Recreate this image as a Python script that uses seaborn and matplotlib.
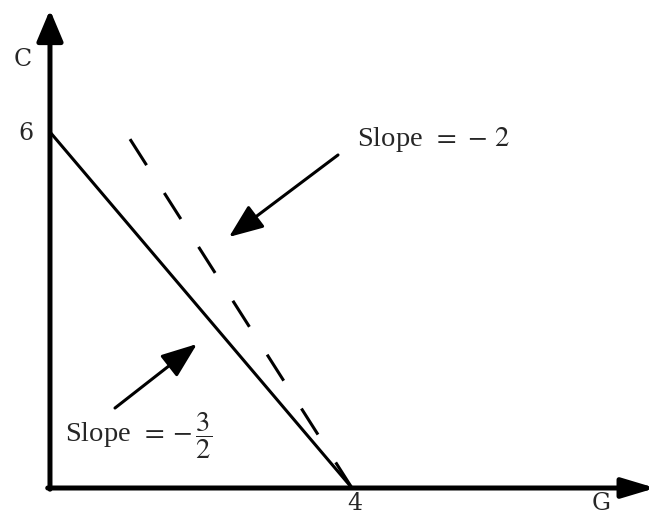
import matplotlib
matplotlib.use("Agg")
import matplotlib.pyplot as plt
import seaborn as sns
import pandas as pd

# ---- data ----
solid_G = [0.0, 4.0]
solid_C = [6.0, 0.0]
dashed_G = [1.06, 4.0]
dashed_C = [5.88, 0.0]
tick_x_label = "4"
tick_y_label = "6"
x_axis_label = "G"
y_axis_label = "C"
label_steep = r"Slope $\,=\,-\,2$"
label_flat = r"Slope $\,=\:-\,\dfrac{3}{2}$"

sns.set_style("white")
plt.rcParams["mathtext.fontset"] = "stix"
plt.rcParams["font.family"] = ["Liberation Serif", "DejaVu Serif"]

fig = plt.figure(figsize=(6.49, 5.15), dpi=100)
ax = fig.add_axes([0, 0, 1, 1])

df_solid = pd.DataFrame({"G": solid_G, "C": solid_C})
df_dash = pd.DataFrame({"G": dashed_G, "C": dashed_C})
sns.lineplot(data=df_solid, x="G", y="C", ax=ax, color="black", lw=2.2,
             estimator=None, sort=False)
sns.lineplot(data=df_dash, x="G", y="C", ax=ax, color="black", lw=2.2,
             estimator=None, sort=False)
ax.lines[-1].set_dashes((10.1, 10.8))
ax.lines[-1].set_dash_capstyle("butt")
ax.set_xlim(-0.662, 7.934)
ax.set_ylim(-0.455, 8.225)
ax.axis("off")

# axes with arrows
ax.annotate("", xy=(0, 8.06), xytext=(0, -0.02), annotation_clip=False,
            arrowprops=dict(arrowstyle="-|>,head_length=0.95,head_width=0.4",
                            lw=3.6, color="black", shrinkA=0, shrinkB=0,
                            mutation_scale=20))
ax.annotate("", xy=(8.02, 0), xytext=(-0.03, 0), annotation_clip=False,
            arrowprops=dict(arrowstyle="-|>,head_length=1.0,head_width=0.3",
                            lw=3.6, color="black", shrinkA=0, shrinkB=0,
                            mutation_scale=20))

# pointer arrows
ax.annotate("", xy=(2.371, 4.231), xytext=(3.815, 5.613),
            arrowprops=dict(arrowstyle="-|>,head_length=1.05,head_width=0.42",
                            lw=2.2, color="black", shrinkA=0, shrinkB=0,
                            mutation_scale=20))
ax.annotate("", xy=(1.947, 2.427), xytext=(0.861, 1.348),
            arrowprops=dict(arrowstyle="-|>,head_length=1.1,head_width=0.42",
                            lw=2.2, color="black", shrinkA=0, shrinkB=0,
                            mutation_scale=20))

# labels
ax.text(4.066, 5.764, label_steep, fontsize=20.5, ha="left", va="baseline")
ax.text(0.199, 0.775, label_flat, fontsize=20.5, ha="left", va="baseline")

lab_font = dict(family="DejaVu Serif", fontsize=17)
ax.text(-0.36, 7.23, y_axis_label, ha="center", va="center", **lab_font)
ax.text(-0.22, 5.97, tick_y_label, ha="right", va="center", **lab_font)
ax.text(4.04, -0.46, tick_x_label, ha="center", va="bottom", **lab_font)
ax.text(7.30, -0.46, x_axis_label, ha="center", va="bottom", **lab_font)

fig.savefig("out.png", dpi=100)
